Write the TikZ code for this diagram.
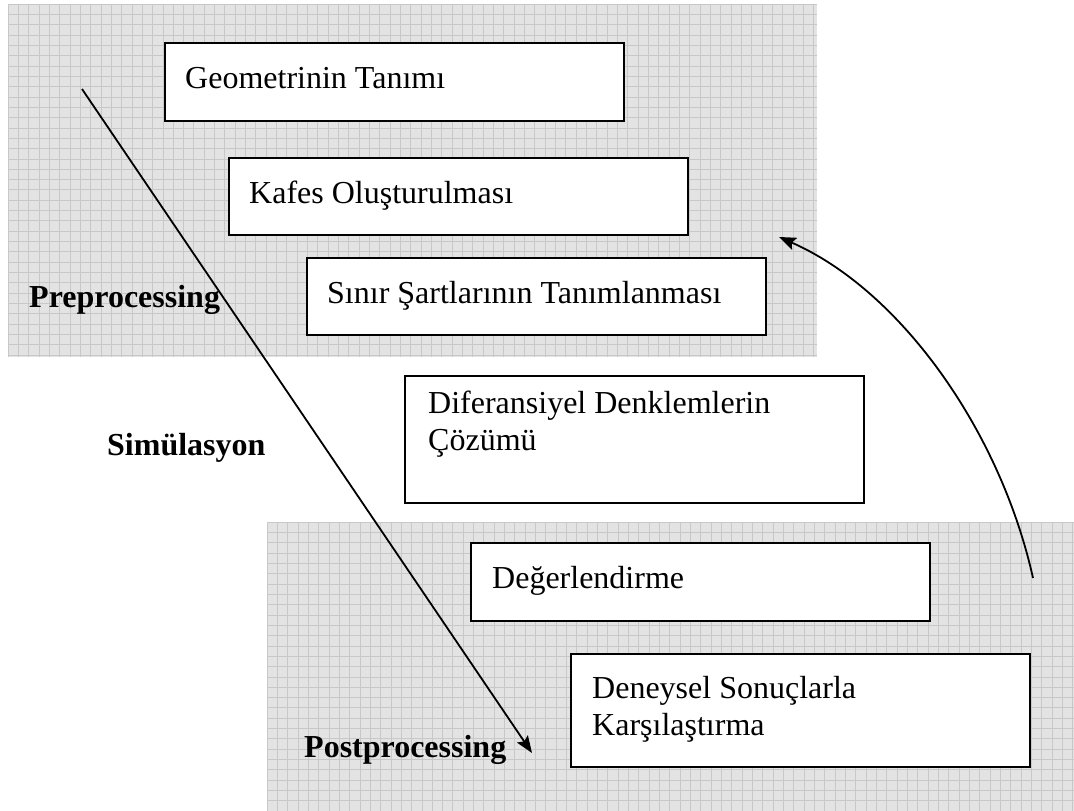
\documentclass[tikz,border=0pt]{standalone}
\usepackage{fontspec}
\setmainfont{Liberation Serif}
\usetikzlibrary{arrows.meta}
\definecolor{bandfill}{HTML}{E3E3E3}
\definecolor{bandline}{HTML}{C8C8C8}
\begin{document}
\begin{tikzpicture}[x=1pt,y=-1pt,
  box/.style={draw=black, line width=2.2pt, fill=white, minimum width=459pt,
              anchor=north west, inner sep=0pt},
  txt/.style={font=\fontsize{32}{37}\selectfont, anchor=base west, inner sep=0pt},
  lbl/.style={font=\fontsize{32}{37}\selectfont\bfseries, anchor=base west, inner sep=0pt},
  gridline/.style={draw=bandline, line width=0.9pt},
  flow/.style={line width=1.8pt, -{Stealth[length=17pt,width=13pt,inset=3pt]}}]
\useasboundingbox (0,0) rectangle (1074,811);
\fill[white] (0,0) rectangle (1074,811);

% upper grid band (pre-processing stage)
\fill[bandfill] (8,4) rectangle (817,357);
\begin{scope}
  \clip (8,4) rectangle (817,357);
  \foreach \i in {0,...,78} \draw[gridline] ({8+\i*10.33},4) -- ({8+\i*10.33},357);
  \foreach \j in {0,...,34} \draw[gridline] (8,{4+\j*10.33}) -- (817,{4+\j*10.33});
\end{scope}

% lower grid band (post-processing stage)
\fill[bandfill] (267,522) rectangle (1074,811);
\begin{scope}
  \clip (267,522) rectangle (1074,811);
  \foreach \i in {0,...,78} \draw[gridline] ({267+\i*10.33},522) -- ({267+\i*10.33},811);
  \foreach \j in {0,...,28} \draw[gridline] (267,{522+\j*10.33}) -- (1074,{522+\j*10.33});
\end{scope}

% process steps
\node[box, minimum height=78pt]  (geo) at (164,42)  {};
\node[txt] (geoT) at (185,88) {Geometrinin Tanımı};

\node[box, minimum height=77pt]  (kaf) at (228,157) {};
\node[txt] (kafT) at (249,203) {Kafes Oluşturulması};

\node[box, minimum height=77pt]  (sin) at (306,257) {};
\node[txt] (sinT) at (327,303) {Sınır Şartlarının Tanımlanması};

\node[box, line width=1.5pt, minimum height=127pt] (dif) at (404,375) {};
\node[txt] (difT1) at (428,413) {Diferansiyel Denklemlerin};
\node[txt] (difT2) at (428,450) {Çözümü};

\node[box, minimum height=78pt]  (deg) at (470,542) {};
\node[txt] (degT) at (492,588) {Değerlendirme};

\node[box, minimum height=113pt] (den) at (570,653) {};
\node[txt] (denT1) at (592,698) {Deneysel Sonuçlarla};
\node[txt] (denT2) at (592,735) {Karşılaştırma};

% stage labels
\node[lbl] (pre)  at (29,307)  {Preprocessing};
\node[lbl] (sim)  at (107,455) {Simülasyon};
\node[lbl] (post) at (304,757) {Postprocessing};

% workflow arrows
\coordinate (sStart) at (82,89);
\coordinate (sEnd)   at (532,753);
\draw[flow] (sStart) -- (sEnd);

\coordinate (cStart) at (1033,578);
\coordinate (cEnd)   at (779,237);
\draw[flow] (cStart) .. controls (1000,430) and (900,290) .. (cEnd);
\end{tikzpicture}
\end{document}
